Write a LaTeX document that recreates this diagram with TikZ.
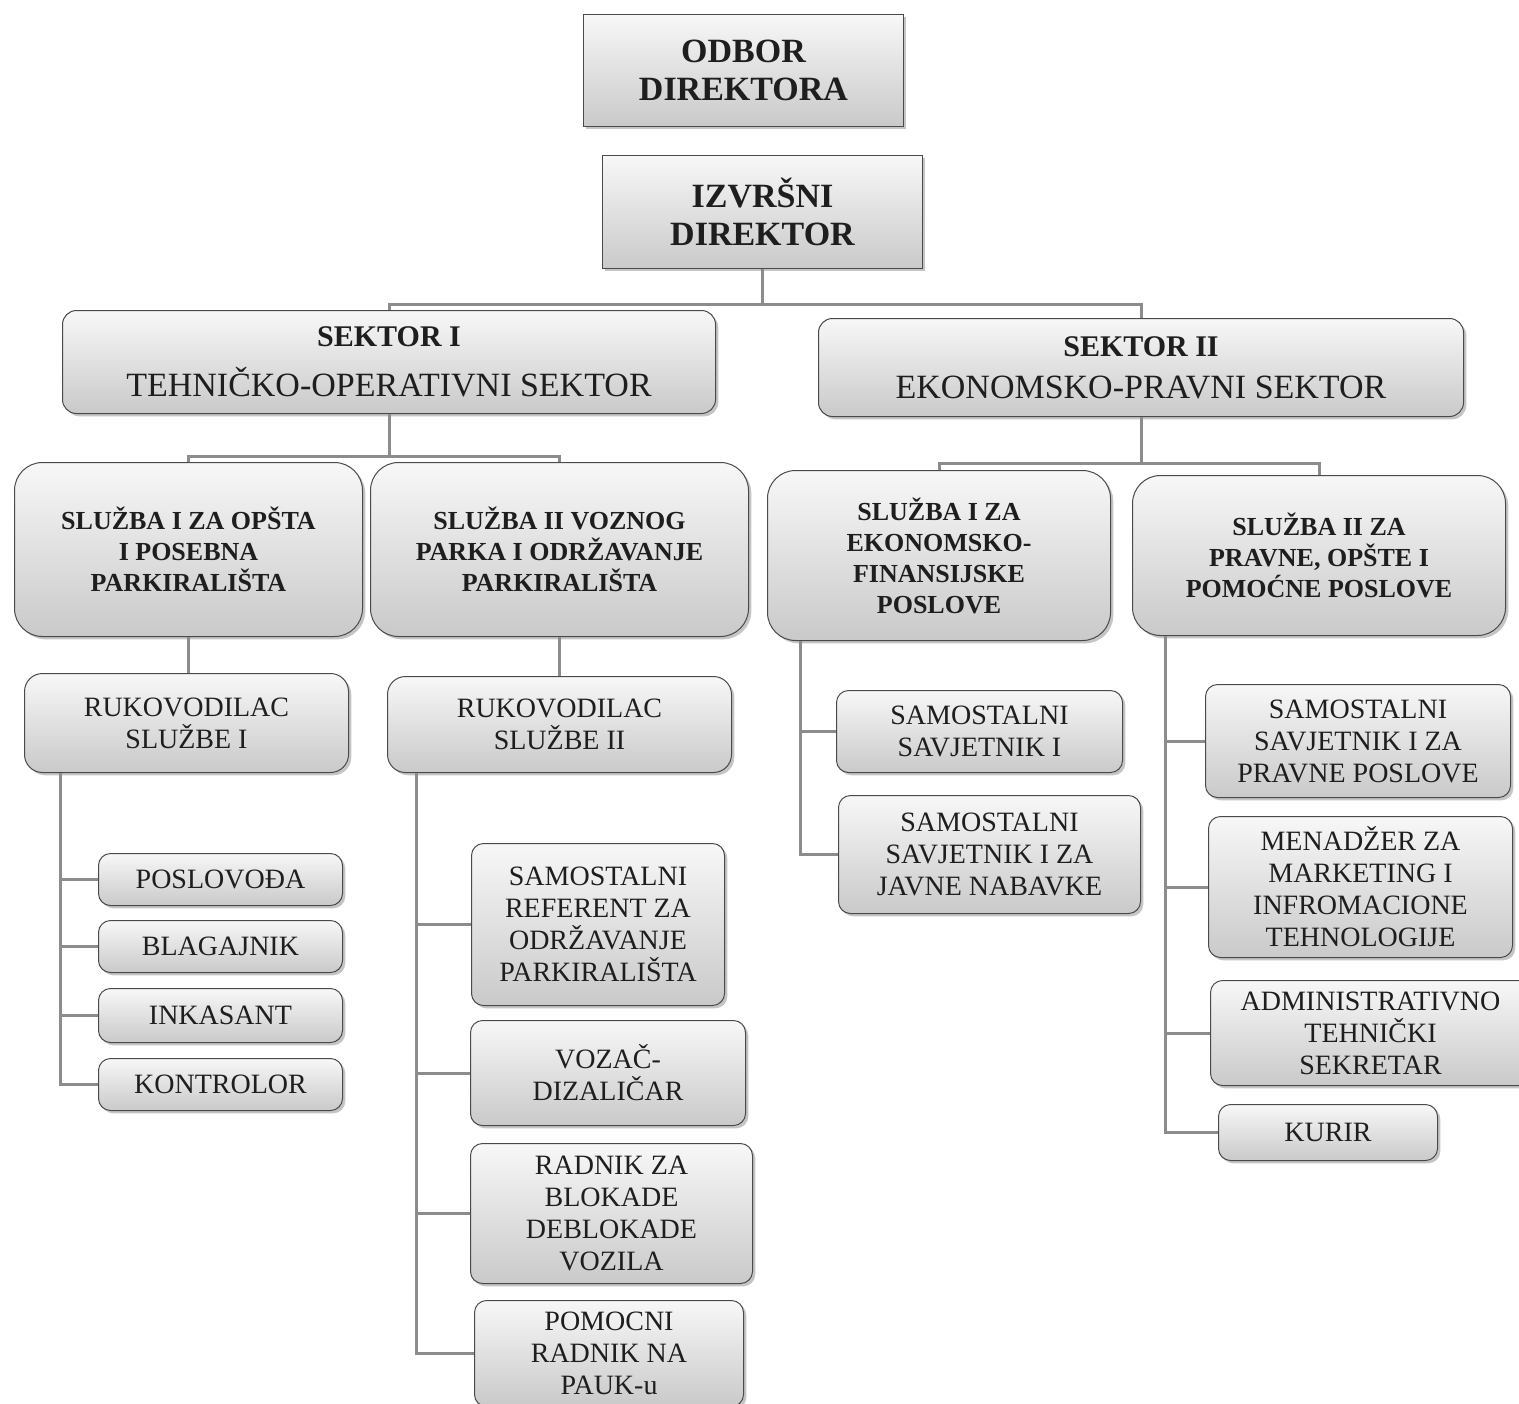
\documentclass[tikz,border=0pt]{standalone}
\usepackage{fontspec}
\setmainfont{Liberation Serif}
\usepackage{tikz}
\usetikzlibrary{shadows}
\definecolor{cLine}{HTML}{8C8C8C}
\definecolor{cEdge}{HTML}{4A4A4A}
\definecolor{cText}{HTML}{1E1E1E}
\tikzset{
  box/.style   ={draw=cEdge,line width=0.5pt,top color=gray!6,bottom color=gray!42,
                 text=cText,align=center,inner sep=0pt,anchor=north west,
                 drop shadow={shadow xshift=1.4pt,shadow yshift=-1.4pt,opacity=.45}},
  topbox/.style={box,font=\fontsize{17}{19}\selectfont\bfseries},
  sekbox/.style={box,rounded corners=7pt},
  slbox/.style ={box,rounded corners=14pt,font=\fontsize{13}{15.5}\selectfont\bfseries},
  leaf/.style  ={box,rounded corners=6pt,font=\fontsize{14}{16}\selectfont},
  link/.style  ={draw=cLine,line width=1.5pt},
}
\newcommand{\sekhead}[2]{{\fontsize{15}{17}\selectfont\bfseries #1}\\[9pt]{\fontsize{17}{19}\selectfont #2}}
\begin{document}
\begin{tikzpicture}[x=0.5pt,y=-0.5pt]
\useasboundingbox[fill=white] (0,0) rectangle (1519,1403);

% uprava
\node[topbox,minimum width=160pt,minimum height=56pt] (odbor) at (583,14) {ODBOR\\DIREKTORA};
\node[topbox,minimum width=160pt,minimum height=56.5pt] (izv) at (602,155) {IZVRŠNI\\DIREKTOR};

% sektori
\node[sekbox,minimum width=326.5pt,minimum height=51.5pt] (sek1) at (62,310)
  {\sekhead{SEKTOR I}{TEHNIČKO-OPERATIVNI SEKTOR}};
\node[sekbox,minimum width=322.5pt,minimum height=49pt] (sek2) at (818,318)
  {\sekhead{SEKTOR II}{EKONOMSKO-PRAVNI SEKTOR}};

% sluzbe
\node[slbox,minimum width=174pt,minimum height=87pt] (sl1) at (14,462)
  {SLUŽBA I ZA OPŠTA\\I POSEBNA\\PARKIRALIŠTA};
\node[slbox,minimum width=189pt,minimum height=87pt] (sl2) at (370,462)
  {SLUŽBA II VOZNOG\\PARKA I ODRŽAVANJE\\PARKIRALIŠTA};
\node[slbox,minimum width=171.5pt,minimum height=85pt] (sl3) at (767,470)
  {SLUŽBA I ZA\\EKONOMSKO-\\FINANSIJSKE\\POSLOVE};
\node[slbox,minimum width=186.5pt,minimum height=80pt] (sl4) at (1132,475)
  {SLUŽBA II ZA\\PRAVNE, OPŠTE I\\POMOĆNE POSLOVE};

% rukovodioci
\node[leaf,rounded corners=9pt,minimum width=162pt,minimum height=49.5pt] (ruk1) at (24,673)
  {RUKOVODILAC\\SLUŽBE I};
\node[leaf,rounded corners=9pt,minimum width=172pt,minimum height=48pt] (ruk2) at (387,676)
  {RUKOVODILAC\\SLUŽBE II};

% sluzba I
\node[leaf,minimum width=122pt,minimum height=26pt] (posl) at (98,853) {POSLOVOĐA};
\node[leaf,minimum width=122pt,minimum height=26pt] (blag) at (98,920) {BLAGAJNIK};
\node[leaf,minimum width=122pt,minimum height=27pt] (inka) at (98,988) {INKASANT};
\node[leaf,minimum width=122pt,minimum height=26pt] (kont) at (98,1058) {KONTROLOR};

% sluzba II
\node[leaf,minimum width=126.5pt,minimum height=81pt] (ref) at (471,843)
  {SAMOSTALNI\\REFERENT ZA\\ODRŽAVANJE\\PARKIRALIŠTA};
\node[leaf,minimum width=137.5pt,minimum height=52.5pt] (voz) at (470,1020)
  {VOZAČ-\\DIZALIČAR};
\node[leaf,minimum width=141pt,minimum height=70pt] (radn) at (470,1143)
  {RADNIK ZA\\BLOKADE\\DEBLOKADE\\VOZILA};
\node[leaf,minimum width=134.5pt,minimum height=53pt] (pom) at (474,1300)
  {POMOCNI\\RADNIK NA\\PAUK-u};

% ekonomsko-finansijski
\node[leaf,minimum width=143pt,minimum height=41pt] (sav1) at (836,690)
  {SAMOSTALNI\\SAVJETNIK I};
\node[leaf,minimum width=151pt,minimum height=59pt] (sav2) at (838,795)
  {SAMOSTALNI\\SAVJETNIK I ZA\\JAVNE NABAVKE};

% pravni, opsti i pomocni
\node[leaf,minimum width=152.5pt,minimum height=56.5pt] (sav3) at (1205,684)
  {SAMOSTALNI\\SAVJETNIK I ZA\\PRAVNE POSLOVE};
\node[leaf,minimum width=152pt,minimum height=70.5pt] (men) at (1208,816)
  {MENADŽER ZA\\MARKETING I\\INFROMACIONE\\TEHNOLOGIJE};
\node[leaf,minimum width=160pt,minimum height=52.5pt] (adm) at (1210,980)
  {ADMINISTRATIVNO\\TEHNIČKI\\SEKRETAR};
\node[leaf,minimum width=109.5pt,minimum height=28pt] (kur) at (1218,1104) {KURIR};

% veze
\draw[link] (izv.south) -- ++(0,35) -| (sek1.north);
\draw[link] (izv.south) -- ++(0,35) -| (sek2.north);
\draw[link] (sek1.south) -- ++(0,42) -| (sl1.north);
\draw[link] (sek1.south) -- ++(0,42) -| (sl2.north);
\draw[link] (sek2.south) -- ++(0,46) -| (sl3.north);
\draw[link] (sek2.south) -- ++(0,46) -| (sl4.north);
\draw[link] (sl1.south) -- (ruk1.north -| sl1.south);
\draw[link] (sl2.south) -- (ruk2.north -| sl2.south);
\foreach \n in {posl,blag,inka,kont}
  \draw[link] ([xshift=18pt]ruk1.south west) |- (\n.west);
\foreach \n in {ref,voz,radn,pom}
  \draw[link] ([xshift=14.5pt]ruk2.south west) |- (\n.west);
\foreach \n in {sav1,sav2}
  \draw[link] ([xshift=16.5pt]sl3.south west) |- (\n.west);
\foreach \n in {sav3,men,adm,kur}
  \draw[link] ([xshift=16.5pt]sl4.south west) |- (\n.west);
\end{tikzpicture}
\end{document}
